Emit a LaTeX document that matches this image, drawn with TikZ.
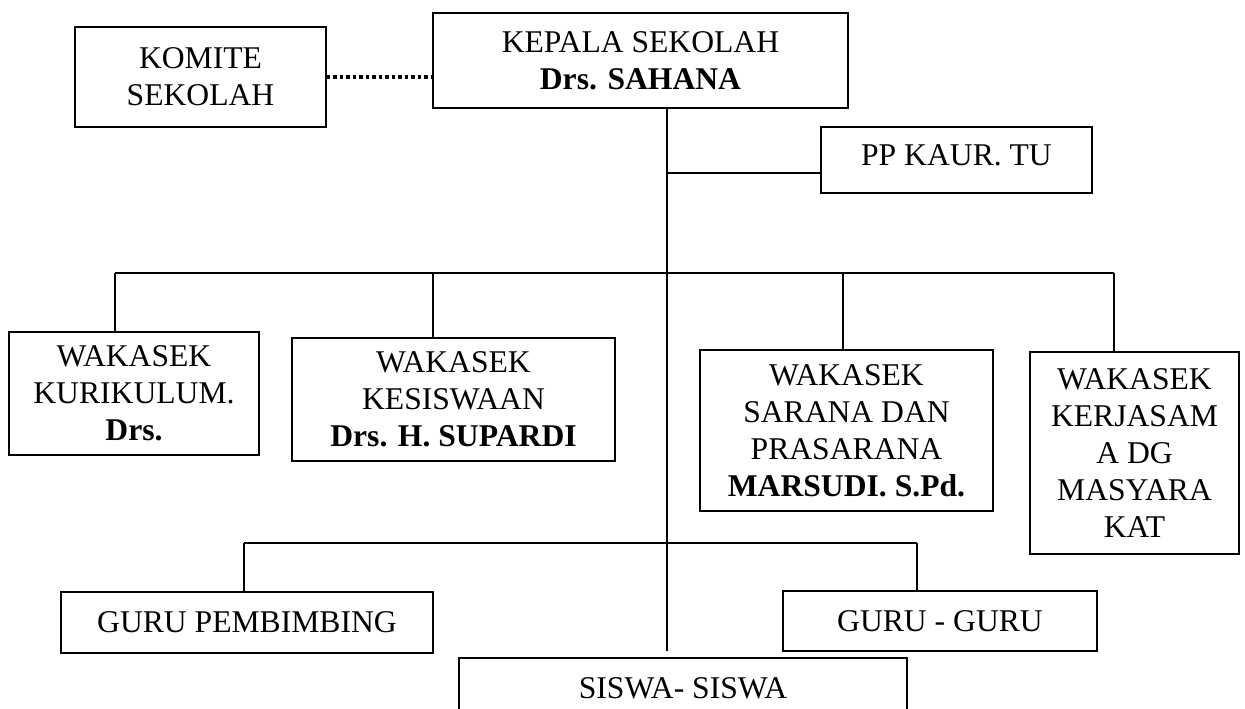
\documentclass[tikz,border=0pt]{standalone}
\usepackage{fontspec}
\setmainfont{Liberation Serif}

\begin{document}
\begin{tikzpicture}[
  post/.style={draw, line width=0.8pt, align=center, inner sep=0pt,
    font=\fontsize{18}{21}\selectfont},
  wire/.style={line width=0.7pt},
  dotwire/.style={line width=2.2pt, dash pattern=on 2pt off 1.7pt}]
\useasboundingbox (0,0) rectangle (24.9,14.18);
% Top: Kepala Sekolah
\node[post, minimum width=8.3cm, minimum height=1.9cm]
  (kepsek) at (12.81,12.97) {KEPALA SEKOLAH\\\textbf{Drs. SAHANA}};
% Left: Komite
\node[post, minimum width=5.02cm, minimum height=2cm]
  (komite) at (4.01,12.64) {KOMITE\\SEKOLAH};
\draw[dotwire] (komite.east) -- (komite.east -| kepsek.west);
% Right: Kaur TU
\node[post, minimum width=5.42cm, minimum height=1.32cm, text depth=0.2cm]
  (kaur) at (19.13,10.98) {PP KAUR. TU};
% Wakasek row
\node[post, minimum width=5cm, minimum height=2.46cm]
  (kurikulum) at (2.68,6.31) {WAKASEK\\KURIKULUM.\\\textbf{Drs.}};
\node[post, minimum width=6.46cm, minimum height=2.46cm]
  (kesiswaan) at (9.07,6.19) {WAKASEK\\KESISWAAN\\\textbf{Drs. H. SUPARDI}};
\node[post, minimum width=5.86cm, minimum height=3.22cm]
  (sarana) at (16.93,5.57) {WAKASEK\\SARANA DAN\\PRASARANA\\\textbf{MARSUDI. S.Pd.}};
\node[post, minimum width=4.18cm, minimum height=4.04cm]
  (humas) at (22.69,5.12) {WAKASEK\\KERJASAM\\A DG\\MASYARA\\KAT};
% Guru row
\node[post, minimum width=7.44cm, minimum height=1.22cm]
  (bk) at (4.94,1.73) {GURU PEMBIMBING};
\node[post, minimum width=6.28cm, minimum height=1.2cm]
  (guru) at (18.8,1.76) {GURU - GURU};
% Bottom: Siswa
\node[post, minimum width=8.96cm, minimum height=1.2cm]
  (siswa) at (13.66,0.42) {SISWA- SISWA};
% Spine
\coordinate (spine) at (13.34,1.16);
\draw[wire] (kepsek.south -| spine) -- (spine);
\coordinate (tu) at (13.34,10.72);
\draw[wire] (tu) -- (tu -| kaur.west);
% Upper bar
\coordinate (b1) at (2.3,8.72);
\coordinate (b2) at (8.66,8.72);
\coordinate (b3) at (16.86,8.72);
\coordinate (b4) at (22.28,8.72);
\draw[wire] (b1) -- (b4);
\draw[wire] (b1) -- (b1 |- kurikulum.north);
\draw[wire] (b2) -- (b2 |- kesiswaan.north);
\draw[wire] (b3) -- (b3 |- sarana.north);
\draw[wire] (b4) -- (b4 |- humas.north);
% Lower bar
\coordinate (c1) at (4.88,3.32);
\coordinate (c2) at (18.34,3.32);
\draw[wire] (c1) -- (c2);
\draw[wire] (c1) -- (c1 |- bk.north);
\draw[wire] (c2) -- (c2 |- guru.north);
\end{tikzpicture}
\end{document}
